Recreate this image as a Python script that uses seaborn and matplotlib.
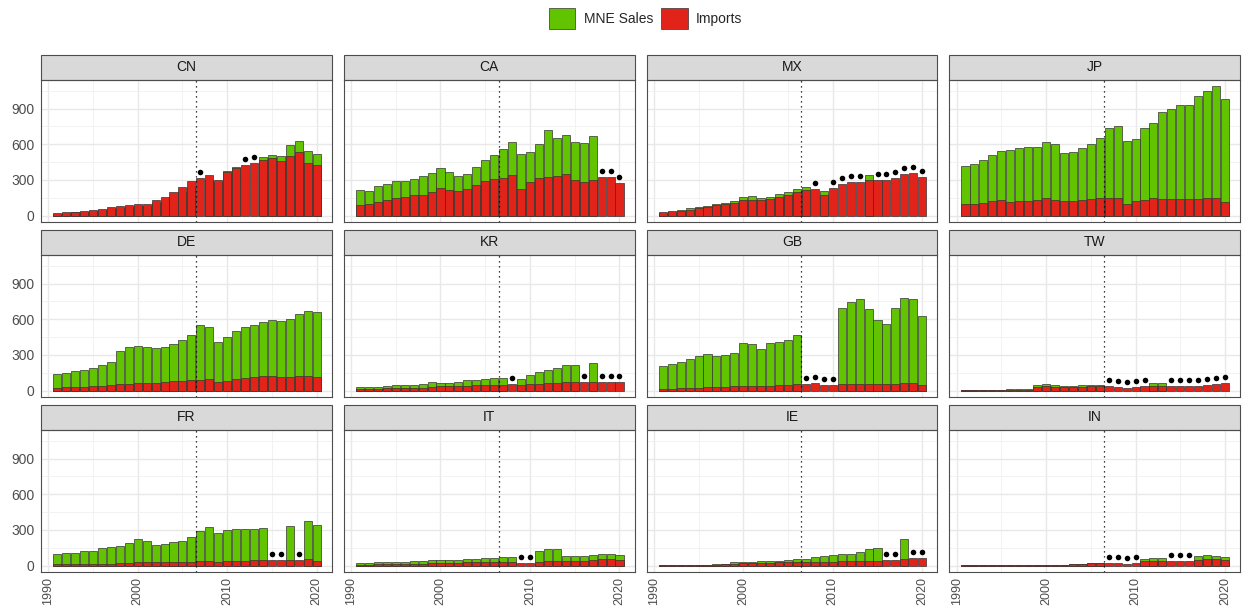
import numpy as np
import pandas as pd
import matplotlib
matplotlib.use("Agg")
from matplotlib import pyplot as plt
from matplotlib.patches import Patch, Rectangle
import seaborn as sns

# years shown on every panel
years = list(range(1991, 2021))

# imports and MNE sales per country (None = no sales data)
cn_imports = [20, 28, 34, 42, 50, 59, 70, 78, 87, 101, 101, 129, 154, 196, 244, 289, 319, 339, 300, 370, 398, 423, 440, 468, 482, 462, 501, 538, 445, 426]
cn_sales = [15, 22, 27, 33, 40, 47, 55, 62, 70, 80, 82, 105, 125, 160, 200, 240, None, 300, 280, 376, 412, None, None, 493, 513, 501, 594, 627, 541, 515]

ca_imports = [92, 101, 115, 134, 151, 160, 171, 176, 202, 232, 218, 210, 224, 258, 294, 305, 317, 339, 227, 283, 317, 328, 336, 353, 303, 286, 303, 322, 322, 275]
ca_sales = [218, 210, 249, 269, 289, 289, 308, 331, 361, 401, 370, 336, 353, 406, 471, 513, 560, 616, 518, 532, 602, 723, 650, 678, 616, 608, 672, None, None, None]

mx_imports = [28, 36, 42, 50, 64, 76, 87, 95, 109, 134, 134, 134, 140, 160, 174, 199, 216, 221, 176, 235, 266, 283, 286, 300, 300, 297, 319, 347, 361, 328]
mx_sales = [26, 34, 48, 62, 73, 84, 98, 106, 123, 154, 165, 151, 157, 179, 196, 227, 238, None, 204, None, None, None, None, 342, None, None, None, None, None, None]

jp_imports = [98, 101, 109, 126, 129, 118, 126, 126, 134, 148, 132, 126, 120, 134, 143, 151, 151, 146, 98, 123, 134, 148, 143, 137, 137, 137, 140, 146, 146, 118]
jp_sales = [417, 434, 465, 510, 541, 552, 571, 577, 580, 622, 599, 529, 535, 571, 602, 653, 734, 751, 625, 647, 737, 781, 874, 894, 933, 933, 1003, 1050, 1087, 980]

de_imports = [22, 31, 34, 34, 39, 42, 45, 53, 59, 62, 62, 67, 70, 78, 84, 90, 92, 98, 73, 84, 101, 109, 115, 126, 126, 115, 118, 126, 126, 115]
de_sales = [143, 151, 165, 176, 193, 218, 238, 331, 370, 378, 370, 359, 370, 389, 426, 468, 552, 535, 409, 454, 499, 538, 552, 580, 597, 585, 605, 644, 669, 658]

kr_imports = [14, 14, 17, 20, 20, 20, 20, 22, 34, 39, 36, 36, 36, 48, 45, 48, 50, 53, 45, 53, 59, 64, 67, 70, 70, 70, 73, 76, 76, 76]
kr_sales = [28, 28, 34, 39, 50, 48, 48, 59, 73, 64, 64, 70, 87, 87, 95, 106, 109, None, 101, 134, 154, 176, 190, 218, 218, None, 235, None, None, None]

gb_imports = [17, 17, 20, 22, 25, 28, 28, 31, 39, 42, 42, 39, 42, 48, 50, 56, 56, 62, 50, 50, 53, 56, 56, 59, 56, 56, 56, 64, 67, 50]
gb_sales = [210, 221, 241, 266, 289, 311, 289, 300, 319, 401, 392, 350, 403, 409, 426, 471, None, None, None, None, 695, 748, 770, 686, 594, 560, 692, 779, 770, 627]

tw_imports = [3, 3, 3, 6, 6, 6, 8, 8, 34, 42, 34, 31, 31, 34, 36, 42, 36, 34, 25, 34, 42, 39, 39, 39, 39, 39, 39, 45, 53, 62]
tw_sales = [4, 4, 5, 7, 8, 11, 11, 14, 50, 59, 45, 39, 39, 48, 50, 48, None, None, None, None, None, 67, 62, None, None, None, None, None, None, None]

fr_imports = [11, 14, 14, 17, 17, 17, 17, 25, 25, 31, 31, 28, 28, 31, 31, 34, 42, 42, 34, 36, 42, 42, 48, 48, 48, 48, 48, 50, 59, 42]
fr_sales = [101, 106, 109, 126, 123, 148, 154, 165, 193, 224, 204, 174, 182, 199, 210, 241, 294, 322, 272, 300, 311, 308, 308, 317, None, None, 336, None, 378, 342]

it_imports = [8, 8, 11, 11, 14, 14, 14, 17, 22, 25, 25, 25, 28, 31, 31, 34, 34, 31, 22, 22, 34, 36, 36, 39, 42, 42, 45, 53, 59, 48]
it_sales = [25, 25, 28, 31, 34, 34, 36, 42, 48, 48, 48, 45, 53, 59, 64, 67, 70, 76, None, None, 126, 143, 137, 81, 78, 78, 90, 98, 101, 87]

ie_imports = [1, 1, 3, 3, 3, 6, 6, 11, 17, 20, 20, 22, 25, 28, 28, 31, 34, 34, 28, 34, 36, 36, 36, 39, 42, 45, 45, 56, 62, 67]
ie_sales = [3, 3, 4, 6, 8, 8, 14, 17, 28, 31, 34, 36, 39, 42, 48, 56, 59, 70, 78, 92, 101, 101, 118, 137, 151, None, None, 221, None, None]

in_imports = [2, 2, 2, 2, 3, 3, 3, 4, 5, 6, 7, 8, 10, 14, 20, 25, 22, 22, 17, 25, 39, 39, 39, 42, 42, 42, 48, 53, 53, 45]
in_sales = [2, 2, 2, 2, 3, 3, 3, 4, 5, 6, 7, 8, 10, 14, 20, 25, None, None, None, None, 59, 67, 64, None, None, None, 81, 90, 81, 76]

panels = [
    ("CN", cn_imports, cn_sales), ("CA", ca_imports, ca_sales),
    ("MX", mx_imports, mx_sales), ("JP", jp_imports, jp_sales),
    ("DE", de_imports, de_sales), ("KR", kr_imports, kr_sales),
    ("GB", gb_imports, gb_sales), ("TW", tw_imports, tw_sales),
    ("FR", fr_imports, fr_sales), ("IT", it_imports, it_sales),
    ("IE", ie_imports, ie_sales), ("IN", in_imports, in_sales),
]

green = "#62C400"
red = "#E2231A"
edge = "#333333"

sns.set_theme(style="white")
plt.rcParams["font.family"] = ["Liberation Sans", "DejaVu Sans"]

fig, axes = plt.subplots(3, 4, figsize=(12.44, 6.09), dpi=100)
fig.subplots_adjust(left=0.033, right=0.997, top=1 - 80 / 609, bottom=1 - 572 / 609,
                    wspace=0.041, hspace=0.232)

for i, (code, imports, sales) in enumerate(panels):
    ax = axes.flat[i]
    df = pd.DataFrame({"year": years, "imports": imports,
                       "sales": [np.nan if s is None else s for s in sales]})
    have = df.dropna(subset=["sales"])
    miss = df[df["sales"].isna()]

    # grid first
    ax.set_axisbelow(True)
    ax.set_xticks([1995, 2005, 2015], minor=True)
    ax.set_yticks([150, 450, 750, 1050], minor=True)
    ax.grid(True, which="major", color="#E8E8E8", lw=1.0)
    ax.grid(True, which="minor", color="#F0F0F0", lw=0.6)

    sns.barplot(data=have, x="year", y="sales", native_scale=True, width=0.9,
                color=green, saturation=1, edgecolor=edge, linewidth=0.5,
                errorbar=None, ax=ax)
    sns.barplot(data=df, x="year", y="imports", native_scale=True, width=0.9,
                color=red, saturation=1, edgecolor=edge, linewidth=0.5,
                errorbar=None, ax=ax)
    # dots mark years without MNE sales data
    sns.scatterplot(x=miss["year"], y=miss["imports"] + 50, color="black",
                    s=16, linewidth=0, ax=ax, zorder=5)
    ax.axvline(2006.5, color="black", ls=(0, (1, 3)), lw=0.9, zorder=4)

    ax.set_xlim(1989.2, 2021.7)
    ax.set_ylim(-54, 1141)
    ax.set_xticks([1990, 2000, 2010, 2020])
    ax.set_yticks([0, 300, 600, 900])
    ax.set_xlabel("")
    ax.set_ylabel("")
    for sp in ax.spines.values():
        sp.set_color("#4d4d4d")
        sp.set_linewidth(0.8)

    row, col = divmod(i, 4)
    ax.tick_params(axis="both", which="major", length=2.75, width=0.8, color="#333333",
                   labelsize=10, labelcolor="#4d4d4d", pad=2)
    ax.tick_params(axis="x", which="major", labelsize=9, pad=1.2)
    ax.tick_params(axis="both", which="minor", length=0)
    ax.tick_params(axis="x", labelrotation=90)
    if row < 2:
        ax.tick_params(axis="x", which="major", length=0, labelbottom=False)
    if col > 0:
        ax.tick_params(axis="y", which="major", length=0, labelleft=False)

    # facet strip
    strip_h = 25 / 142
    ax.add_patch(Rectangle((0, 1), 1, strip_h, transform=ax.transAxes, clip_on=False,
                           facecolor="#D9D9D9", edgecolor="#4d4d4d", lw=0.8))
    ax.text(0.5, 1 + strip_h / 2, code, transform=ax.transAxes, ha="center",
            va="center", fontsize=10, color="#1a1a1a")

handles = [Patch(facecolor=green, edgecolor=edge, lw=0.5, label="MNE Sales"),
           Patch(facecolor=red, edgecolor=edge, lw=0.5, label="Imports")]
fig.legend(handles=handles, loc="upper center", bbox_to_anchor=(0.519, 1.008), ncol=2,
           frameon=False, fontsize=10, handlelength=1.9, handleheight=2.0,
           columnspacing=0.6, handletextpad=0.6)

plt.savefig("out.png", dpi=100)
